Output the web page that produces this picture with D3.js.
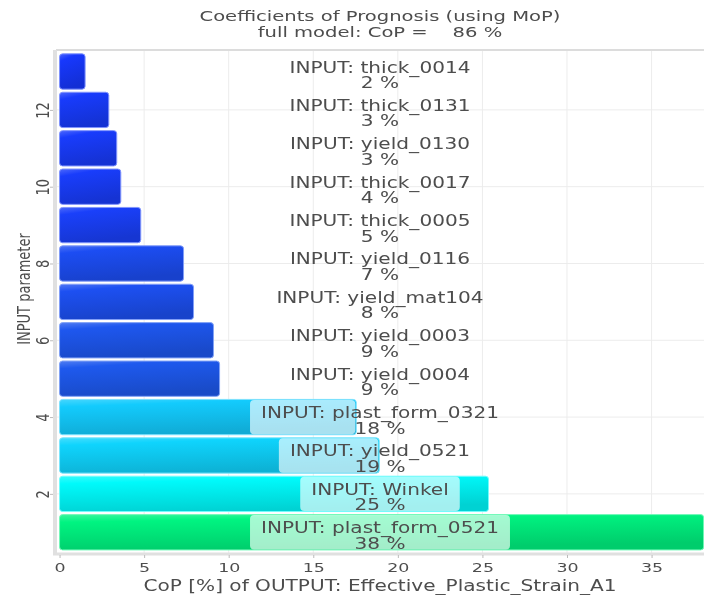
<!DOCTYPE html>
<html>
<head>
<meta charset="utf-8">
<script src="https://cdn.jsdelivr.net/npm/d3@7"></script>
<style>
  body { margin: 0; background: #fff; }
  svg { filter: blur(0.5px); }
  text { font-family: "DejaVu Sans", Verdana, sans-serif; fill: #4d4d4d; }
</style>
</head>
<body>
<div id="chart"></div>
<script>
// rows from bottom (1) to top (13)
const params = ["plast_form_0521", "Winkel", "yield_0521", "plast_form_0321", "yield_0004",
                "yield_0003", "yield_mat104", "yield_0116", "thick_0005", "thick_0017",
                "yield_0130", "thick_0131", "thick_0014"];
const cop = [38.08, 25.36, 18.9, 17.54, 9.46, 9.10, 7.92, 7.33, 4.80, 3.62, 3.38, 2.91, 1.51];
const xTicks = [0, 5, 10, 15, 20, 25, 30, 35];
const yTicks = [2, 4, 6, 8, 10, 12];
const titleLines = ["Coefficients of Prognosis (using MoP)", "full model: CoP =    86 %"];
const xLabel = "CoP [%] of OUTPUT: Effective_Plastic_Strain_A1";
const yLabel = "INPUT parameter";

const W = 704, H = 595;
const dim = {l: 56, r: 704, t: 50, b: 553};
const sx = 1.34; // the picture is stretched sideways

const svg = d3.select("#chart").append("svg")
    .attr("width", W).attr("height", H);
const defs = svg.append("defs");

const x = d3.scaleLinear().domain([-0.21, 38.1]).range([dim.l, dim.r]);
const y = d3.scaleLinear().domain([0.46, 13.56]).range([dim.b, dim.t]);
const slot = y(1) - y(2);
const barH = slot * 0.92;

// bar colour follows the CoP value
const colorOf = d3.scaleLinear()
    .domain([0, 5, 10, 17, 25, 38])
    .range(["#1634ff", "#1a40fa", "#1f5cec", "#14c8fd", "#00fafe", "#00f482"]);

// grid
svg.append("g").selectAll("line").data(xTicks.slice(1)).enter().append("line")
    .attr("x1", d => x(d)).attr("x2", d => x(d))
    .attr("y1", dim.t).attr("y2", dim.b)
    .attr("stroke", "#ececec").attr("stroke-width", 1);
svg.append("g").selectAll("line").data(yTicks).enter().append("line")
    .attr("x1", dim.l).attr("x2", dim.r)
    .attr("y1", d => y(d)).attr("y2", d => y(d))
    .attr("stroke", "#ececec").attr("stroke-width", 1);

// frame
svg.append("line").attr("x1", dim.l).attr("x2", dim.r).attr("y1", dim.t).attr("y2", dim.t)
    .attr("stroke", "#dcdcdc").attr("stroke-width", 2);
svg.append("line").attr("x1", dim.l - 1).attr("x2", dim.l - 1).attr("y1", dim.t).attr("y2", dim.b + 2)
    .attr("stroke", "#e0e0e0").attr("stroke-width", 4);
svg.append("line").attr("x1", dim.l - 3).attr("x2", dim.r).attr("y1", dim.b + 1).attr("y2", dim.b + 1)
    .attr("stroke", "#e0e0e0").attr("stroke-width", 3);

// axes ticks
const xAxis = svg.append("g").attr("transform", "translate(0," + (dim.b + 2) + ")")
    .call(d3.axisBottom(x).tickValues(xTicks).tickSize(3).tickSizeOuter(0));
xAxis.select(".domain").remove();
xAxis.selectAll("line").attr("stroke", "#bbb");
xAxis.selectAll("text").remove();
xAxis.selectAll(".tick").append("text")
    .attr("transform", "translate(0,17) scale(" + sx + ",1)")
    .attr("text-anchor", "middle")
    .style("font-size", "13px")
    .text(d => d);

const yAxis = svg.append("g").attr("transform", "translate(" + (dim.l - 3) + ",0)")
    .call(d3.axisLeft(y).tickValues(yTicks).tickSize(3).tickSizeOuter(0));
yAxis.select(".domain").remove();
yAxis.selectAll("line").attr("stroke", "#bbb");
yAxis.selectAll("text").remove();
yAxis.selectAll(".tick").append("text")
    .attr("transform", "translate(-4,0) rotate(-90) scale(1," + sx + ")")
    .attr("text-anchor", "middle")
    .style("font-size", "13px")
    .text(d => d);

// bars
const rows = params.map((p, i) => ({name: p, v: cop[i], pos: i + 1}));

rows.forEach((d, i) => {
    const c = d3.color(colorOf(d.v));
    const g = defs.append("linearGradient").attr("id", "grad" + i)
        .attr("x1", 0).attr("y1", 0).attr("x2", 0.3).attr("y2", 1);
    g.append("stop").attr("offset", 0).attr("stop-color", d3.interpolateRgb(c, "#fff")(0.22));
    g.append("stop").attr("offset", 0.2).attr("stop-color", c.formatHex());
    g.append("stop").attr("offset", 1).attr("stop-color", d3.interpolateRgb(c, "#000")(0.16));
});

const bars = svg.append("g").selectAll(".bar").data(rows).enter()
    .append("g").attr("class", "bar");

bars.append("rect")
    .attr("x", x(0))
    .attr("y", d => y(d.pos) - barH / 2)
    .attr("width", d => x(d.v) - x(0))
    .attr("height", barH)
    .attr("rx", 3)
    .attr("fill", (d, i) => "url(#grad" + i + ")")
    .attr("stroke", d => d3.interpolateRgb(colorOf(d.v), "#fff")(0.45))
    .attr("stroke-width", 1);

// labels
const cx = (dim.l + dim.r) / 2;
const labels = svg.append("g").selectAll(".lab").data(rows).enter()
    .append("g").attr("class", "lab");

labels.each(function(d) {
    const gsel = d3.select(this);
    const yc = y(d.pos);
    const box = gsel.append("rect");
    const t1 = gsel.append("text")
        .attr("transform", "translate(" + cx + "," + (yc + 1) + ") scale(" + sx + ",1)")
        .attr("text-anchor", "middle")
        .style("font-size", "15px")
        .text("INPUT: " + d.name);
    gsel.append("text")
        .attr("transform", "translate(" + cx + "," + (yc + 16.5) + ") scale(" + sx + ",1)")
        .attr("text-anchor", "middle")
        .style("font-size", "15px")
        .text(Math.round(d.v) + " %");
    const tw = t1.node().getComputedTextLength() * sx;
    const left = cx - tw / 2 - 11;
    const right = Math.min(cx + tw / 2 + 11, x(d.v) - 1);
    if (right > left) {
        box.attr("x", left).attr("y", yc - barH / 2 + 0.5)
            .attr("width", right - left).attr("height", barH - 1)
            .attr("rx", 4)
            .attr("fill", "#fff").attr("fill-opacity", 0.64);
    } else {
        box.remove();
    }
});

// titles
titleLines.forEach((s, i) => {
    svg.append("text")
        .attr("transform", "translate(" + cx + "," + (21 + i * 16) + ") scale(" + sx + ",1)")
        .attr("text-anchor", "middle")
        .style("font-size", "14.6px")
        .style("white-space", "pre")
        .text(s);
});

svg.append("text")
    .attr("transform", "translate(" + cx + ",591) scale(" + sx + ",1)")
    .attr("text-anchor", "middle")
    .style("font-size", "15px")
    .text(xLabel);

svg.append("text")
    .attr("transform", "translate(30,289) rotate(-90) scale(1," + sx + ")")
    .attr("text-anchor", "middle")
    .style("font-size", "13px")
    .text(yLabel);
</script>
</body>
</html>
